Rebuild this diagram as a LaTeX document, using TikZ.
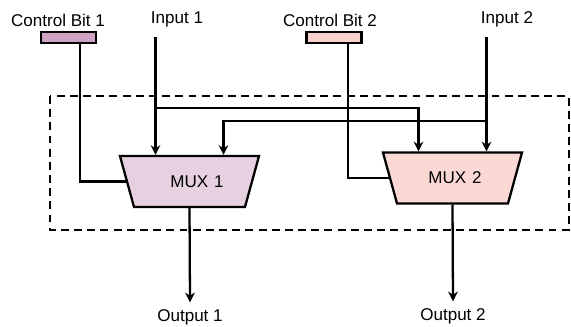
\documentclass[tikz,border=0pt]{standalone}
\usepackage{fontspec}
\setmainfont{Liberation Sans}
\usetikzlibrary{positioning}
\usetikzlibrary{shapes.geometric}
\usetikzlibrary{arrows.meta}

\definecolor{bitone}{HTML}{CDA2C2}
\definecolor{muxone}{HTML}{E7D1E0}
\definecolor{bittwo}{HTML}{F9D0CB}
\definecolor{muxtwo}{HTML}{FAD9D5}

\begin{document}
\begin{tikzpicture}[%
			x=0.02cm, y=-0.02cm, line width=1.3pt,
			>={Stealth[length=5.5pt, width=5.5pt]},
			font=\fontsize{9.7}{11}\selectfont,
			bit/.style={draw, minimum width=1.1cm, minimum height=0.22cm, inner sep=0pt},
			mux/.style={draw, trapezium, trapezium angle=74.6, shape border rotate=180,
				text width=2.22cm, align=center, text height=0.63cm, text depth=0.39cm, inner sep=0pt}]
			\useasboundingbox (0,0) rectangle (571,327);
			\draw[dashed, dash pattern=on 4.5pt off 3pt] (50,96) rectangle (569,230);
			\node[bit, fill=bitone](ctlone) at (68.5,37.5){};
			\node(ctlonetext) at (58,20){Control Bit 1};
			\node[bit, fill=bittwo](ctltwo) at (334,37.5){};
			\node(ctltwotext) at (330,20){Control Bit 2};
			\node(inonetext) at (177,19){Input 1};
			\node(intwotext) at (507,19){Input 2};
			\coordinate(inone) at (155.5,37);
			\coordinate(intwo) at (486.5,37);
			\node[mux, fill=muxone](muxone) at (189.5,181.5){\hspace*{0.3cm}MUX 1};
			\node[mux, fill=muxtwo](muxtwo) at (452.5,178){\hspace*{0.1cm}MUX 2};
			\node(outone) at (190,317){Output 1};
			\node(outtwo) at (453,316){Output 2};
			\coordinate(tapone) at (155.5,108);
			\coordinate(taptwo) at (486.5,121);
			\path[draw, ->] (inone) -- (inone |- muxone.north);
			\path[draw, ->] (intwo) -- (intwo |- muxtwo.north);
			\path[draw, ->] (tapone) -| ([xshift=-0.68cm]muxtwo.north);
			\path[draw, ->] (taptwo) -| ([xshift=0.68cm]muxone.north);
			\path[draw] ([xshift=0.23cm]ctlone.south) |- (muxone.west);
			\path[draw] ([xshift=0.28cm]ctltwo.south) |- (muxtwo.west);
			\path[draw, ->] (muxone.south) -- (outone.north);
			\path[draw, ->] (muxtwo.south) -- (outtwo.north);
	\end{tikzpicture}
\end{document}
